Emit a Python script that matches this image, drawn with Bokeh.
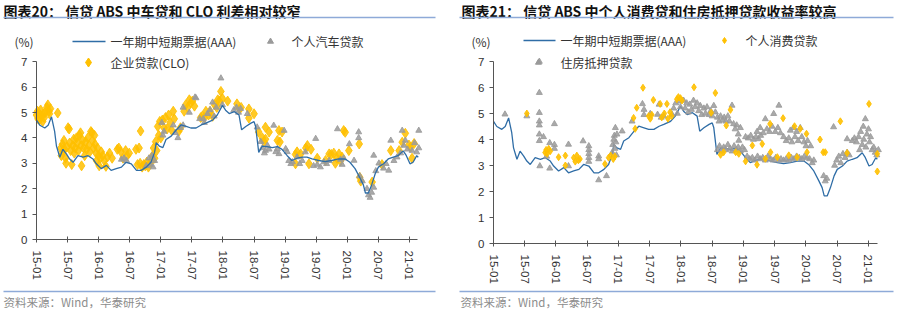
from bokeh.plotting import figure
from bokeh.layouts import row
from bokeh.models import Label, BoxAnnotation, FixedTicker, LinearAxis, Range1d
from bokeh.embed import file_html
from bokeh.resources import INLINE

# ---------------- data ----------------
tick_months = [0, 6, 12, 18, 24, 30, 36, 42, 48, 54, 60, 66, 72]
tick_labels = ["15-01", "15-07", "16-01", "16-07", "17-01", "17-07", "18-01",
               "18-07", "19-01", "19-07", "20-01", "20-07", "21-01"]
y_ticks = [0, 1, 2, 3, 4, 5, 6, 7]

# months since 2015-01, 1Y medium-term note (AAA) yield
aaa_month = [0, 0.64, 1.6, 2.25, 2.9, 3.5, 3.85, 4.5, 5.1, 5.8, 6.4, 7.06, 8.0, 9.0,
             9.95, 10.9, 11.55, 12.5, 13.5, 14.4, 15.4, 16.4, 17.3, 18.3, 19.3, 20.2,
             21.2, 22.1, 22.8, 23.1, 23.7, 24.4, 25.0, 26.0, 27.0, 27.9, 28.9, 29.8,
             30.8, 31.8, 32.7, 34.0, 34.9, 35.9, 36.5, 37.2, 38.2, 39.1, 39.6, 40.4,
             41.4, 42.0, 42.3, 42.9, 43.6, 44.5, 45.5, 46.5, 47.4, 48.4, 49.3, 50.3,
             51.3, 52.2, 53.2, 54.5, 55.7, 57.0, 58.3, 59.6, 60.5, 61.5, 62.5, 63.1,
             63.5, 64.07, 64.7, 65.4, 66.0, 67.0, 67.9, 68.9, 69.8, 70.8, 71.4, 72.1,
             72.7, 73.4, 73.7]
aaa_yield = [4.70, 4.50, 4.39, 4.50, 4.83, 4.26, 3.68, 3.24, 3.55, 3.36, 3.17, 3.04,
             3.30, 3.24, 3.30, 3.17, 2.98, 2.79, 2.92, 2.72, 2.79, 2.85, 3.04, 2.98,
             2.72, 2.72, 2.85, 3.04, 3.43, 3.81, 3.68, 3.62, 3.94, 4.07, 4.32, 4.51,
             4.45, 4.39, 4.39, 4.51, 4.58, 4.70, 4.90, 5.28, 5.09, 4.96, 5.03, 4.90,
             4.32, 4.45, 4.58, 4.64, 4.45, 3.43, 3.68, 3.66, 3.62, 3.66, 3.55, 3.30,
             3.11, 3.20, 3.24, 3.24, 3.17, 3.11, 3.07, 3.11, 3.17, 3.17, 3.04, 2.79,
             2.40, 2.15, 1.83, 1.83, 2.15, 2.60, 2.85, 2.98, 3.17, 3.24, 3.30, 3.49,
             3.30, 2.98, 3.04, 3.30, 3.24]

# Corporate loans (CLO)
clo_month = [0.0, 0.2, 0.3, 0.5, 0.6, 0.8, 1.0, 1.2, 1.3, 1.5, 1.7, 2.0, 2.2, 2.4, 2.5, 2.7, 4.1,
             4.7, 4.8, 5.0, 5.1, 5.3, 5.4, 5.6, 5.7, 5.9, 6.1, 6.3, 6.4, 6.6, 6.8, 7.0, 7.2,
             7.3, 7.5, 7.7, 7.9, 8.1, 8.3, 8.5, 8.6, 8.7, 8.9, 9.1, 9.3, 9.5, 9.7, 9.9, 10.1,
             10.3, 10.5, 10.7, 10.8, 11.0, 11.2, 11.3, 11.5, 11.6, 11.8, 12.0, 12.1, 12.3,
             12.5, 12.8, 13.1, 13.4, 13.7, 14.1, 14.6, 15.6, 15.9, 16.3, 16.7, 17.2, 17.5,
             17.9, 19.2, 19.5, 19.8, 20.0, 20.1, 20.4, 20.7, 21.0, 21.3, 21.6, 21.9, 22.2,
             22.4, 22.6, 22.8, 23.0, 23.2, 23.4, 23.6, 23.8, 24.0, 24.3, 24.6, 24.9, 25.2,
             25.5, 25.8, 26.1, 26.4, 26.6, 27.5, 27.8, 28.5, 28.8, 29.2, 29.5, 29.8, 30.1,
             30.5, 31.7, 32.0, 32.4, 32.7, 33.2, 33.5, 34.0, 34.4, 34.8, 35.0, 35.3, 35.6,
             35.9, 36.9, 38.7, 39.2, 39.5, 41.0, 41.0, 42.0, 42.9, 43.6, 43.9, 44.2, 44.2,
             44.9, 46.5, 46.8, 47.0, 47.4, 50.0, 50.0, 50.3, 51.0, 52.0, 52.3, 52.6, 53.0,
             54.2, 55.8, 56.5, 56.9, 57.4, 57.7, 58.0, 58.4, 58.7, 59.0, 59.3, 59.6, 60.3,
             62.3, 62.4, 62.6, 64.8, 66.7, 68.4, 70.0, 70.6, 71.2, 71.9, 72.2, 72.5, 72.9]
clo_yield = [4.90, 5.05, 4.75, 4.95, 4.70, 5.10, 4.85, 4.65, 4.95, 4.80, 5.00, 5.20, 5.30, 5.05,
             4.95, 5.15, 4.98,
             3.60, 3.30, 3.75, 3.45, 3.90, 3.55, 3.20, 3.00, 3.65, 4.40, 4.35, 3.80, 3.50,
             2.95, 3.70, 3.95, 3.40, 3.60, 4.00, 3.80, 3.50, 4.10, 4.20, 3.70, 2.90, 3.90,
             3.60, 3.30, 3.85, 3.55, 4.00, 3.70, 3.45, 4.25, 4.20, 3.90, 3.60, 4.10, 3.75,
             3.40, 3.10, 3.60, 3.30, 2.90, 3.20, 3.45, 3.30, 3.10, 2.88, 3.25, 3.40, 3.20,
             3.55, 3.60, 3.45, 3.20, 3.50, 3.30, 3.40, 3.55, 2.95, 3.60, 3.00, 4.27, 2.85,
             2.95, 2.90, 3.05, 2.85, 3.00, 3.10, 3.30, 3.60, 3.20, 3.85, 3.50, 4.45, 4.10,
             4.65, 4.00, 4.70, 4.40, 4.80, 4.35, 4.90, 4.60, 4.30, 5.05, 4.75, 4.27, 4.40,
             5.05, 5.30, 5.20, 5.50, 5.38, 5.45, 5.25, 4.80, 4.85, 4.80, 5.05, 4.90, 5.05,
             4.85, 5.30, 5.20, 5.50, 5.45, 5.83, 5.55, 5.45, 5.34, 5.14, 5.20, 5.14, 4.78,
             4.95, 4.23, 4.00, 3.85, 4.42, 3.95, 4.23, 3.90, 4.29, 3.84, 4.23, 3.35, 2.98,
             3.45, 3.37, 3.60, 3.70, 2.98, 3.55, 3.20, 3.11, 3.37, 3.35, 3.40, 3.00, 3.20,
             3.37, 3.10, 3.24, 4.29, 4.22, 3.50, 3.76, 2.45, 2.30, 2.26, 2.95, 3.50, 3.50,
             3.83, 4.18, 3.72, 3.63, 3.20, 3.78]

# Personal auto loans
auto_month = [16.4, 16.9, 17.4, 21.2, 21.7, 22.0, 22.3, 22.5, 22.8, 24.2, 24.4, 24.6, 26.4,
              26.8, 27.3, 27.8, 28.3, 28.3, 29.5, 30.6, 30.8, 31.5, 32.2, 32.4, 33.0, 33.5,
              34.0, 34.3, 34.7, 35.6, 35.9, 38.1, 38.6, 39.0, 39.4, 40.7, 42.6, 43.3, 43.6,
              44.0, 44.2, 44.6, 44.9, 45.8, 46.2, 46.5, 46.8, 47.8, 48.1, 48.4, 48.7, 49.1,
              49.4, 50.3, 50.8, 51.3, 51.9, 53.5, 53.9, 54.2, 54.8, 55.5, 56.0, 56.5, 58.1,
              58.7, 59.0, 59.3, 60.4, 61.3, 62.2, 62.2, 62.4, 62.9, 63.8, 64.1, 64.4, 64.7,
              65.1, 65.1, 65.5, 66.1, 67.0, 67.5, 68.0, 68.4, 69.0, 69.6, 70.3, 70.6, 70.9,
              71.2, 71.6, 72.5, 73.0, 73.4, 73.8, 73.8]
auto_yield = [3.15, 3.20, 3.10, 2.90, 3.20, 2.95, 3.30, 2.85, 3.10, 4.60, 4.10, 4.25, 4.50,
              4.20, 4.00, 4.40, 5.20, 4.50, 5.00, 5.60, 5.57, 4.75, 4.75, 4.60, 4.95, 5.10,
              5.40, 4.85, 5.20, 6.35, 5.30, 5.10, 5.20, 5.00, 5.15, 4.95, 4.42, 3.85, 3.60,
              3.40, 3.50, 3.70, 3.55, 4.49, 3.45, 3.57, 3.37, 4.29, 3.57, 3.45, 3.10, 2.98,
              3.05, 3.24, 2.98, 3.10, 3.44, 2.90, 3.97, 2.95, 2.85, 3.05, 2.98, 3.10, 4.35,
              3.15, 2.95, 3.20, 3.76, 3.11, 4.00, 4.23, 2.50, 2.30, 2.00, 1.75, 1.65, 1.85,
              2.05, 3.31, 2.70, 3.00, 2.80, 2.98, 2.72, 3.90, 3.10, 3.24, 3.40, 4.29, 3.70,
              3.90, 3.55, 3.50, 3.80, 3.44, 4.29, 3.60]

# Personal consumer loans
cons_month = [6.4, 9.9, 10.1, 10.3, 10.6, 10.9, 12.5, 13.8, 13.8, 15.4, 15.7, 16.0, 16.3, 16.6,
              21.4, 22.1, 22.5, 23.0, 23.3, 26.9, 27.2, 27.5, 28.7, 29.8, 30.1, 30.4, 30.7,
              32.0, 32.3, 32.8, 33.3, 33.5, 33.9, 34.2, 35.2, 35.5, 35.9, 36.2, 38.5, 41.8,
              42.6, 43.6, 44.2, 44.7, 45.5, 46.5, 47.1, 48.4, 49.7, 50.6, 51.6, 52.2, 53.1,
              53.2, 54.5, 55.6, 56.7, 57.8, 58.3, 58.9, 60.1, 60.2, 62.7, 63.3, 63.7, 66.6,
              67.9, 72.1, 73.7, 73.7]
cons_yield = [5.00, 3.50, 3.60, 3.45, 3.64, 3.55, 3.32, 3.38, 3.00, 3.30, 3.15, 3.38, 3.20, 3.25,
              3.06, 3.30, 3.38, 3.25, 3.35, 4.83, 4.41, 5.22, 5.99, 4.90, 4.80, 4.95, 5.52,
              5.37, 4.85, 5.00, 5.37, 4.80, 5.05, 4.90, 5.55, 5.63, 5.59, 5.50, 6.01, 5.03,
              5.79, 3.41, 3.51, 4.54, 5.14, 3.51, 3.45, 3.16, 3.77, 3.03, 3.83, 3.26, 4.60,
              3.51, 3.32, 4.82, 3.39, 4.51, 3.32, 4.41, 4.22, 3.51, 4.00, 3.51, 3.51, 4.70,
              3.48, 5.37, 3.45, 2.77]

# Residential mortgage loans
mort_month = [2.2, 6.4, 8.8, 8.8, 8.8, 8.8, 8.8, 8.8, 8.8, 8.9, 9.6, 10.2, 10.8, 10.8, 11.7,
              11.7, 11.7, 14.4, 14.4, 17.2, 18.3, 18.3, 18.3, 18.3, 18.3, 20.2, 20.2, 20.2,
              21.7, 22.8, 22.9, 23.1, 23.2, 23.3, 23.4, 23.5, 23.6, 23.7, 24.7, 26.6, 28.6,
              28.9, 28.9, 30.1, 31.5, 31.8, 32.2, 32.7, 34.3, 34.6, 35.0, 35.3, 35.6, 35.9,
              36.5, 36.8, 37.1, 37.4, 37.7, 38.0, 38.4, 38.7, 39.1, 39.4, 39.7, 40.0, 40.4,
              40.7, 41.0, 41.4, 41.7, 42.0, 42.3, 42.6, 43.0, 43.3, 43.6, 44.0, 44.3, 44.6,
              45.0, 45.3, 45.8, 46.1, 46.4, 46.7, 47.0, 47.1, 47.4,
              43.0, 43.4, 43.8, 44.2, 44.6, 45.0, 45.4, 45.8, 46.2, 46.6, 47.0, 47.4, 47.8,
              48.2, 48.4, 48.9, 49.4, 49.9, 50.4, 50.9, 51.3, 50.6, 51.2, 51.8, 52.2, 52.5,
              53.0, 53.5, 53.8, 54.1, 54.8, 54.6, 55.1, 55.7, 56.2, 56.7, 57.0, 57.3, 57.6,
              57.9, 58.2, 58.5, 58.9, 59.2, 59.6, 60.0, 60.3, 60.9,
              48.7, 49.2, 49.7, 50.2, 50.7, 51.2, 51.7, 52.2, 52.7, 53.2, 53.7, 54.2, 54.7,
              55.2, 55.7, 56.2, 56.7, 57.2, 57.7, 58.2, 58.7, 59.2, 59.7, 60.2, 60.7, 61.2,
              61.5, 63.4, 63.7, 64.0, 65.3, 65.5, 65.9, 66.3, 66.7, 67.1, 67.5, 67.9, 67.9,
              68.3, 68.9, 69.3, 69.7, 70.1, 70.3, 70.5, 70.8, 71.0, 71.1, 71.4, 71.5, 71.7,
              72.0, 72.2, 72.4, 72.7, 73.0, 73.3, 73.6, 73.9]
mort_yield = [4.97, 4.90, 7.00, 5.80, 5.03, 4.70, 4.55, 4.20, 3.95, 2.98, 4.10, 3.35, 3.87, 2.89,
              4.60, 3.80, 3.65, 3.81, 2.98, 3.94, 3.75, 3.60, 3.45, 3.30, 3.15, 3.36, 3.25,
              2.44, 2.60, 3.50, 3.80, 4.00, 4.15, 3.65, 4.45, 3.90, 3.40, 4.20, 4.32, 4.70,
              5.37, 5.15, 4.95, 4.99, 4.96, 5.35, 4.85, 4.90, 4.96, 5.20, 5.40, 5.00, 5.47,
              5.25, 5.50, 5.20, 5.40, 5.05, 5.35, 5.15, 5.50, 5.25, 5.40, 5.10, 5.30, 4.95,
              5.20, 5.00, 5.25, 4.95, 5.10, 4.90, 5.30, 5.05, 4.85, 4.70, 4.90, 4.75, 4.85,
              4.70, 4.90, 4.70, 5.31, 4.60, 4.40, 4.55, 4.20, 3.96, 4.45,
              3.60, 3.75, 3.55, 3.70, 3.60, 3.80, 3.65, 3.55, 3.75, 3.60, 3.70, 3.55, 3.70,
              3.60, 4.10, 4.05, 4.15, 4.00, 4.10, 4.02, 4.15, 4.30, 4.45, 4.25, 4.79, 4.40,
              4.30, 4.50, 4.99, 4.30, 5.31, 4.45, 4.25, 4.10, 3.95, 4.05, 4.35, 3.90, 4.45,
              4.10, 4.30, 3.95, 4.45, 4.10, 3.90, 3.75, 3.95, 3.75,
              3.35, 3.25, 3.30, 3.20, 3.35, 3.25, 3.30, 3.20, 3.35, 3.25, 3.20, 3.30, 3.20,
              3.25, 3.20, 3.25, 3.20, 3.30, 3.25, 3.35, 3.30, 3.25, 3.35, 3.30, 3.25, 3.10,
              3.20, 2.60, 2.40, 2.50, 4.48, 3.00, 3.20, 3.35, 3.10, 3.45, 3.30, 3.50, 4.02,
              3.40, 3.95, 4.05, 3.90, 4.10, 3.60, 4.30, 3.80, 4.50, 4.00, 4.79, 3.70, 4.20,
              4.40, 3.90, 4.10, 3.60, 3.70, 3.50, 3.40, 3.60]

# ---------------- styling ----------------
BLUE = "#2f6da6"
YELLOW = "#FFC000"
GRAY = "#9a9a9a"
RULE = "#8eaad8"
CJK = "Noto Sans CJK SC"
LAT = "Liberation Sans"
W, H = 450, 311


def make_panel(offset, left_b, right_b, axis_y, ppm, ppu):
    # the frame covers the whole canvas; axes are pinned at data 0
    p = figure(width=W, height=H, output_backend="svg", toolbar_location=None,
               x_range=Range1d(-left_b / ppm, (W - left_b) / ppm),
               y_range=Range1d(-(H - axis_y) / ppu, axis_y / ppu),
               min_border=0, min_border_left=0, min_border_right=0,
               min_border_top=0, min_border_bottom=0,
               x_axis_type=None, y_axis_type=None)
    p.outline_line_color = None
    p.background_fill_color = "white"
    p.border_fill_color = "white"

    x_end = (W - left_b - right_b) / ppm
    xaxis = LinearAxis(ticker=FixedTicker(ticks=tick_months), fixed_location=0,
                       bounds=(0, x_end),
                       major_label_overrides={m: l for m, l in zip(tick_months, tick_labels)},
                       major_label_orientation="vertical")
    xaxis.major_tick_in = 3
    xaxis.major_tick_out = 3
    xaxis.minor_tick_line_color = None
    xaxis.axis_line_color = "#555555"
    xaxis.major_tick_line_color = "#555555"
    xaxis.major_label_text_font = LAT
    xaxis.major_label_text_font_size = "11.5px"
    xaxis.major_label_text_color = "#333333"
    xaxis.major_label_standoff = 8
    p.add_layout(xaxis, "below")

    yaxis = LinearAxis(ticker=FixedTicker(ticks=y_ticks), fixed_location=0, bounds=(0, 7))
    yaxis.major_tick_in = 0
    yaxis.major_tick_out = 4
    yaxis.minor_tick_line_color = None
    yaxis.axis_line_color = "#555555"
    yaxis.major_tick_line_color = "#555555"
    yaxis.major_label_text_font = LAT
    yaxis.major_label_text_font_size = "11.5px"
    yaxis.major_label_text_color = "#333333"
    yaxis.major_label_standoff = 5
    p.add_layout(yaxis, "left")

    def X(px):
        return (px - offset - left_b) / ppm

    def Y(py):
        return (axis_y - py) / ppu

    return p, X, Y


def label(p, X, Y, px, py, text, size="12px", font=CJK, color="#333333", style="normal"):
    p.add_layout(Label(x=X(px), y=Y(py), text=text, text_font=font, text_font_size=size,
                       text_color=color, text_font_style=style,
                       text_align="left", text_baseline="middle"))


def rule(p, X, Y, x0, x1, py):
    p.add_layout(BoxAnnotation(left=X(x0), right=X(x1), bottom=Y(py + 0.7), top=Y(py - 0.7),
                               fill_color=RULE, fill_alpha=1.0, line_color=None))


# ---------------- left panel ----------------
p1, X1, Y1 = make_panel(0, 36, 33, 239, 5.18, 25.4)
p1.scatter(clo_month, clo_yield, marker="diamond", size=10, fill_color=YELLOW,
           line_color=YELLOW, fill_alpha=0.85, line_alpha=0.85)
p1.scatter(auto_month, auto_yield, marker="triangle", size=6, fill_color=GRAY,
           line_color=GRAY, fill_alpha=0.85, line_alpha=0.85)
p1.line(aaa_month, aaa_yield, line_color=BLUE, line_width=1.3)

label(p1, X1, Y1, 3, 10, "图表20：  信贷 ABS 中车贷和 CLO 利差相对较窄", size="14px",
      color="#111111", style="bold")
rule(p1, X1, Y1, 3, 435, 17)
label(p1, X1, Y1, 14, 41, "(%)", size="12px")
p1.line([X1(72), X1(105)], [Y1(41), Y1(41)], line_color=BLUE, line_width=1.3)
label(p1, X1, Y1, 110, 41, "一年期中短期票据(AAA)")
p1.scatter([X1(270)], [Y1(41)], marker="triangle", size=6, fill_color=GRAY, line_color=GRAY)
label(p1, X1, Y1, 291, 41, "个人汽车贷款")
p1.scatter([X1(88)], [Y1(62)], marker="diamond", size=9, fill_color=YELLOW, line_color=YELLOW)
label(p1, X1, Y1, 110, 62, "企业贷款(CLO)")
rule(p1, X1, Y1, 3, 435, 291)
label(p1, X1, Y1, 3, 301, "资料来源：Wind，华泰研究", size="11.5px", color="#8c8c8c")

# ---------------- right panel ----------------
p2, X2, Y2 = make_panel(450, 43, 23, 243, 5.208, 26.0)
p2.line(aaa_month, aaa_yield, line_color=BLUE, line_width=1.3)
p2.scatter(mort_month, mort_yield, marker="triangle", size=6, fill_color=GRAY,
           line_color=GRAY, fill_alpha=0.85, line_alpha=0.85)
p2.scatter(cons_month, cons_yield, marker="diamond", size=7, fill_color=YELLOW,
           line_color=YELLOW, fill_alpha=0.9, line_alpha=0.9)

label(p2, X2, Y2, 461, 10, "图表21：  信贷 ABS 中个人消费贷和住房抵押贷款收益率较高", size="14px",
      color="#111111", style="bold")
rule(p2, X2, Y2, 459, 893, 17)
label(p2, X2, Y2, 471, 41, "(%)", size="12px")
p2.line([X2(523), X2(555)], [Y2(40), Y2(40)], line_color=BLUE, line_width=1.3)
label(p2, X2, Y2, 560, 40, "一年期中短期票据(AAA)")
p2.scatter([X2(724)], [Y2(40)], marker="diamond", size=6, fill_color=YELLOW, line_color=YELLOW)
label(p2, X2, Y2, 745, 40, "个人消费贷款")
p2.scatter([X2(538)], [Y2(62)], marker="triangle", size=6, fill_color=GRAY, line_color=GRAY)
label(p2, X2, Y2, 560, 62, "住房抵押贷款")
rule(p2, X2, Y2, 459, 893, 291)
label(p2, X2, Y2, 460, 301, "资料来源：Wind，华泰研究", size="11.5px", color="#8c8c8c")

layout = row(p1, p2, spacing=0)
open("out.html", "w").write(file_html(layout, INLINE))
